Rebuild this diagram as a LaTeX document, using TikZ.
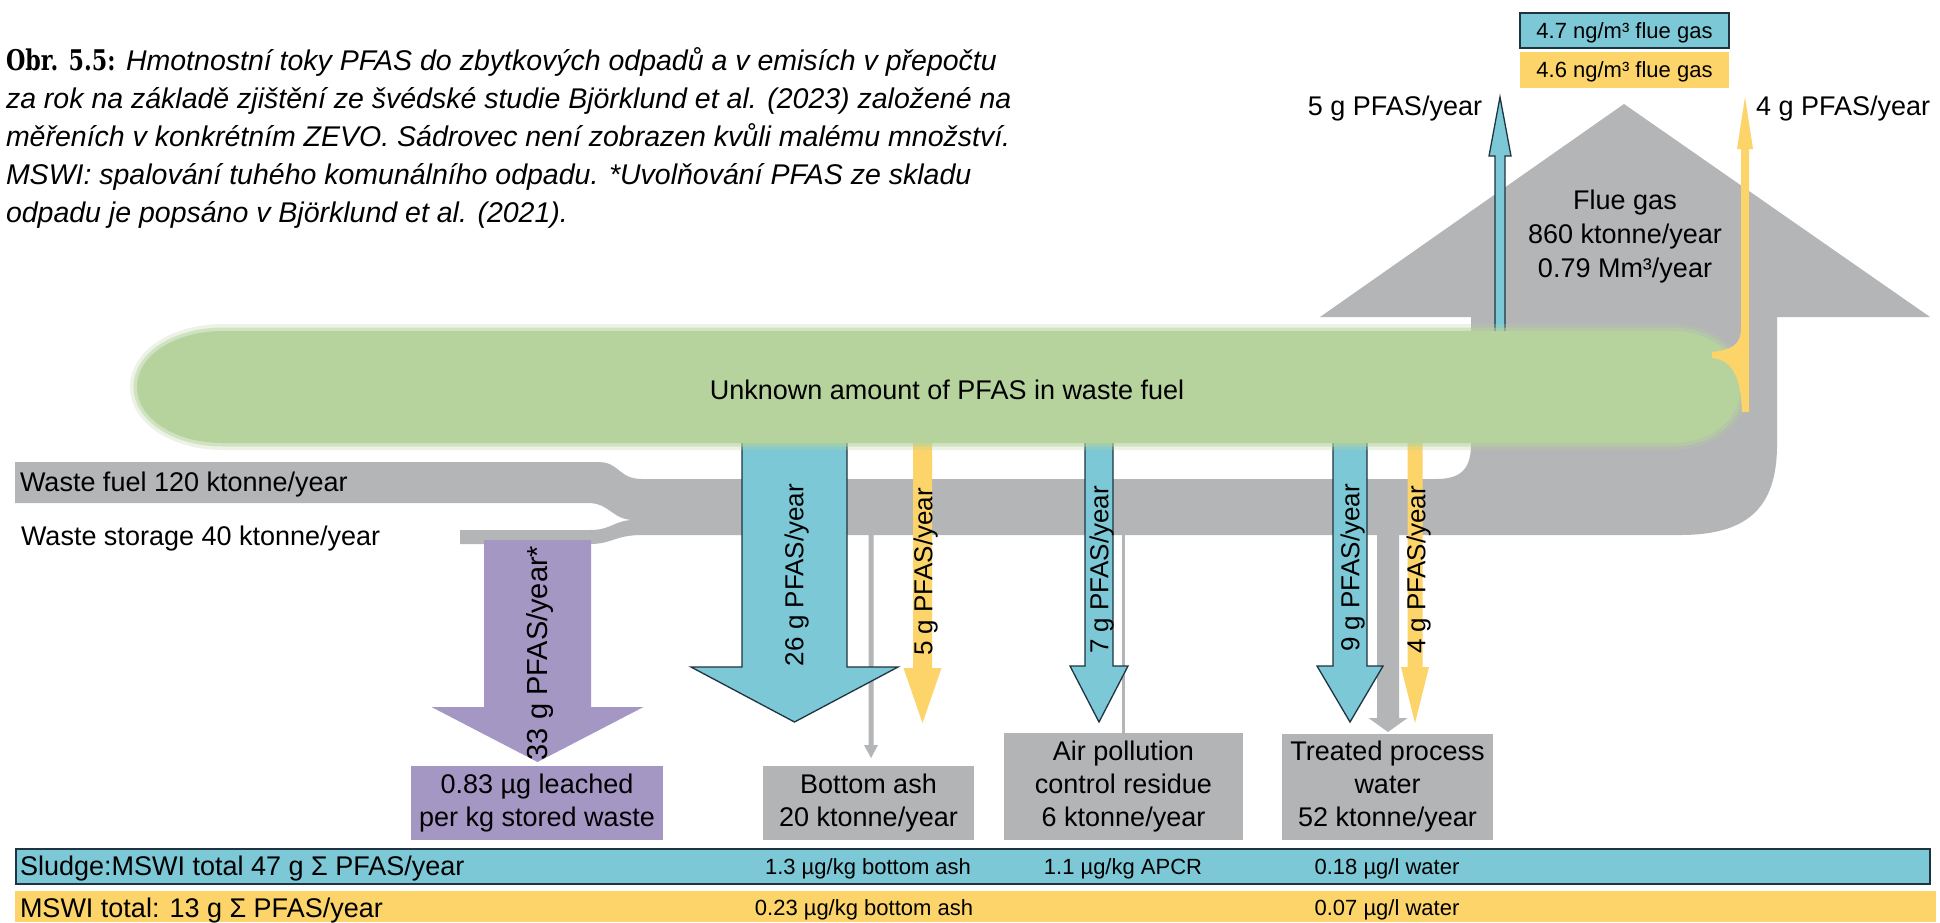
\documentclass[tikz,border=0pt]{standalone}
\usepackage{fontspec}
\setmainfont{Liberation Sans}
\newfontfamily\slabfont[FakeStretch=0.78]{DejaVu Serif}
\definecolor{bandgray}{HTML}{B4B5B7}
\definecolor{boxgray}{HTML}{B3B4B6}
\definecolor{leafgreen}{HTML}{B6D39D}
\definecolor{pblue}{HTML}{7CC8D6}
\definecolor{pyellow}{HTML}{FCD46A}
\definecolor{ppurple}{HTML}{A597C4}
\definecolor{outl}{HTML}{1E3440}
\newcommand{\dflow}[7]{\path[#1] ({#2-#3},#5) -- ({#2-#3},#6) -- ({#2-#4},#6) -- (#2,#7) -- ({#2+#4},#6) -- ({#2+#3},#6) -- ({#2+#3},#5) -- cycle;}
\newcommand{\greenpath}{(223,331) -- (1672,331) .. controls (1712,331) and (1741,356) .. (1741,387) .. controls (1741,418) and (1712,443) .. (1672,443) -- (223,443) .. controls (174,443) and (137,418) .. (137,387) .. controls (137,356) and (174,331) .. (223,331) -- cycle}
\begin{document}
\begin{tikzpicture}[x=1pt,y=-1pt,
  every node/.style={inner sep=0pt, outer sep=0pt, text=black},
  lbl/.style={font=\fontsize{27}{33}\selectfont, text height=19.3pt, text depth=0pt},
  rlbl/.style={font=\fontsize{26}{30}\selectfont, rotate=90, text height=18.6pt, text depth=0pt},
  small/.style={font=\fontsize{22}{26}\selectfont, text height=15.8pt, text depth=0pt},
  captxt/.style={font=\fontsize{28.5}{38}\selectfont\itshape, anchor=base west},
  blueflow/.style={fill=pblue, draw=outl, line width=1.3pt, line join=miter},
  yellowflow/.style={fill=pyellow},
  grayflow/.style={fill=bandgray},
  infobox/.style={fill=boxgray, align=center, font=\fontsize{27}{33}\selectfont},
]
\useasboundingbox (0,0) rectangle (1940,922);
\fill[white] (0,0) rectangle (1940,922);

% caption
\node[captxt] (cap1) at (6,70) {{\slabfont\bfseries\upshape Obr. 5.5:} Hmotnostní toky PFAS do zbytkových odpadů a v emisích v přepočtu};
\node[captxt] (cap2) at (6,108) {za rok na základě zjištění ze švédské studie Björklund et al. (2023) založené na};
\node[captxt] (cap3) at (6,146) {měřeních v konkrétním ZEVO. Sádrovec není zobrazen kvůli malému množství.};
\node[captxt] (cap4) at (6,184) {MSWI: spalování tuhého komunálního odpadu. *Uvolňování PFAS ze skladu};
\node[captxt] (cap5) at (6,222) {odpadu je popsáno v Björklund et al. (2021).};

% gray main flow
\fill[bandgray] (15,462) -- (598,462) .. controls (620,462) and (618,479) .. (642,479) -- (1436,479) .. controls (1462,479) and (1471,468) .. (1471,444) -- (1471,317) -- (1320,317) -- (1624,104) -- (1930,317) -- (1777,317) -- (1777,445) .. controls (1777,510) and (1745,535) .. (1680,535) -- (642,535) .. controls (615,535) and (612,544) .. (590,544) -- (460,544) -- (460,530) -- (590,530) .. controls (612,530) and (614,520) .. (634,520) .. controls (612,520) and (610,503) .. (588,503) -- (15,503) -- cycle;

% gray outflows
\dflow{grayflow}{871}{2.5}{7}{530}{745}{758}
\dflow{grayflow}{1388}{11}{19.5}{530}{718}{732}
\fill[bandgray] (1122,530) rectangle (1125,733);

% purple
\dflow{fill=ppurple}{537.5}{53.5}{106}{540}{707}{762}

% blue / yellow flows
\dflow{blueflow}{794.5}{52.5}{103.5}{420}{667}{722}
\dflow{yellowflow}{922.5}{9.5}{19}{420}{668}{723}
\dflow{blueflow}{1099}{14}{29}{420}{666}{722}
\dflow{blueflow}{1350}{17}{33}{420}{666}{722}
\dflow{yellowflow}{1415}{7.5}{14}{420}{667}{723}
\path[blueflow] (1495,360) -- (1495,156) -- (1489,156) -- (1500,97) -- (1511,156) -- (1505,156) -- (1505,360) -- cycle;

% green soft ellipse
\draw[leafgreen, line width=14pt, opacity=0.25] \greenpath;
\draw[leafgreen, line width=7pt, opacity=0.5] \greenpath;
\fill[leafgreen] \greenpath;

% yellow curved up flow
\fill[pyellow] (1741,147) -- (1741,328) .. controls (1741,346) and (1730,350) .. (1712,352) -- (1712,358) .. controls (1733,360) and (1741,378) .. (1742,412) -- (1749,412) -- (1749,147) -- cycle;
\fill[pyellow] (1737,149) -- (1745,97) -- (1753,149) -- cycle;

% labels
\node[lbl] (unk) at (947,390) {Unknown amount of PFAS in waste fuel};
\node[lbl, anchor=west] (wf) at (20,482) {Waste fuel 120 ktonne/year};
\node[lbl, anchor=west] (ws) at (21,536) {Waste storage 40 ktonne/year};
\node[lbl] (fg1) at (1625,200) {Flue gas};
\node[lbl] (fg2) at (1625,234) {860 ktonne/year};
\node[lbl] (fg3) at (1625,268) {0.79 Mm³/year};
\node[lbl, anchor=east] (up5) at (1482,106) {5 g PFAS/year};
\node[lbl, anchor=west] (up4) at (1756,106) {4 g PFAS/year};

\node[rlbl, font=\fontsize{29}{33}\selectfont, text height=20.7pt] (r33) at (537,653) {33 g PFAS/year*};
\node[rlbl] (r26) at (794,575) {26 g PFAS/year};
\node[rlbl] (r5) at (923,572) {5 g PFAS/year};
\node[rlbl] (r7) at (1099,570) {7 g PFAS/year};
\node[rlbl] (r9) at (1350,568) {9 g PFAS/year};
\node[rlbl] (r4) at (1416,570) {4 g PFAS/year};

% top boxes
\node[small, fill=pblue, draw=outl, line width=1.8pt, minimum width=209pt, minimum height=35pt] (b47) at (1624.5,30.5) {4.7 ng/m³ flue gas};
\node[small, fill=pyellow, minimum width=209pt, minimum height=36pt] (b46) at (1624.5,70) {4.6 ng/m³ flue gas};

% result boxes
\node[infobox, fill=ppurple, minimum width=252pt, minimum height=74pt] (leach) at (537,803) {0.83 µg leached\\per kg stored waste};
\node[infobox, minimum width=211pt, minimum height=74pt] (ash) at (868.5,803) {Bottom ash\\20 ktonne/year};
\node[infobox, minimum width=239pt, minimum height=107pt] (apcr) at (1123.5,786.5) {Air pollution\\control residue\\6 ktonne/year};
\node[infobox, minimum width=211pt, minimum height=106pt] (water) at (1387.5,787) {Treated process\\water\\52 ktonne/year};

% bars
\node[fill=pblue, draw=outl, line width=2.5pt, minimum width=1914pt, minimum height=35pt, anchor=north west] (bluebar) at (16,849) {};
\node[fill=pyellow, minimum width=1921pt, minimum height=31pt, anchor=north west] (yellowbar) at (15,891) {};
\node[lbl, anchor=west] (s1) at (20,866) {Sludge:MSWI total 47 g Σ PFAS/year};
\node[small] (s2) at (868,867) {1.3 µg/kg bottom ash};
\node[small] (s3) at (1123,867) {1.1 µg/kg APCR};
\node[small] (s4) at (1387,867) {0.18 µg/l water};
\node[lbl, anchor=west] (m1) at (20,908) {MSWI total: 13 g Σ PFAS/year};
\node[small] (m2) at (864,908) {0.23 µg/kg bottom ash};
\node[small] (m3) at (1387,908) {0.07 µg/l water};
\end{tikzpicture}
\end{document}
